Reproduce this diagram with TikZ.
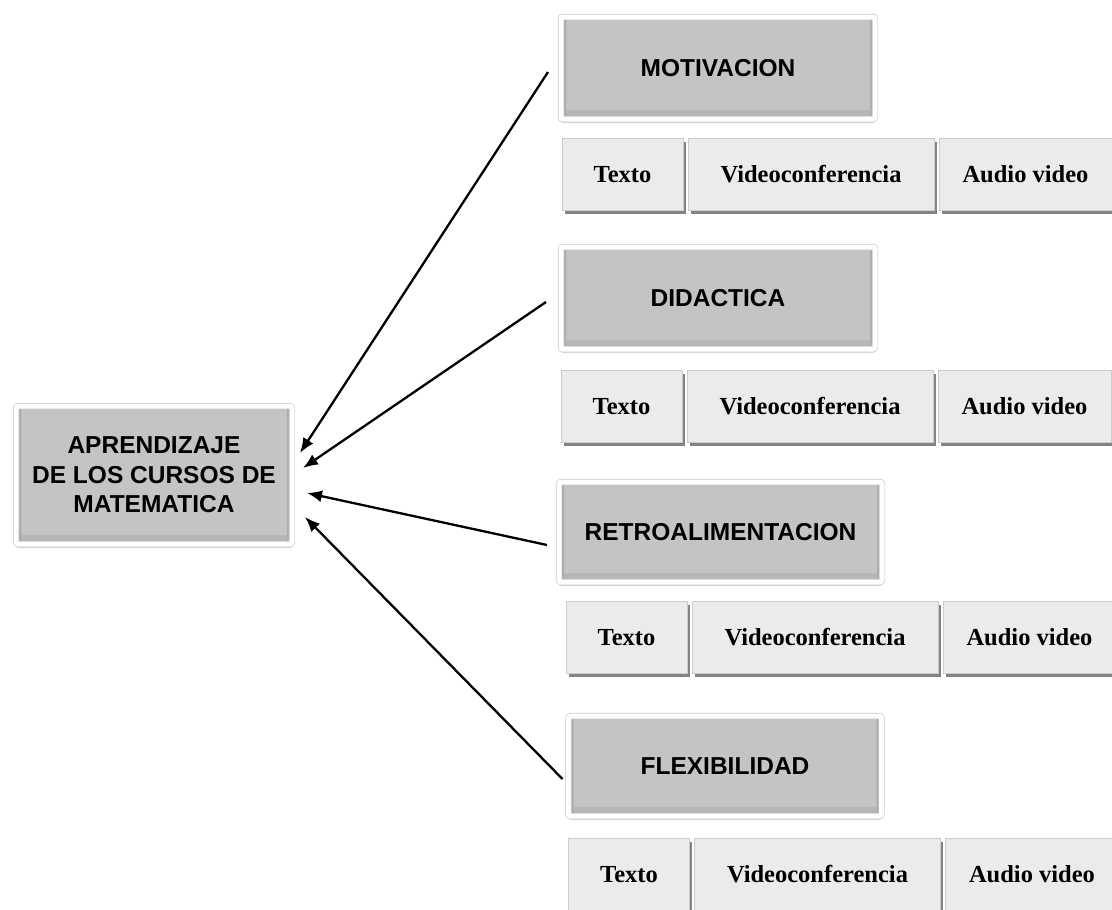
\documentclass[tikz,border=0pt]{standalone}
\usepackage{fontspec}
\setmainfont{Liberation Serif}
\setsansfont{Liberation Sans}
\usepackage{tikz}
\usetikzlibrary{positioning, shadows, arrows.meta, calc}
\definecolor{headgray}{RGB}{196,196,196}
\definecolor{subgray}{RGB}{235,235,235}
\tikzset{
	mainbox/.style = {rectangle, fill=headgray, draw=gray!45, line width=0.6pt, double=white, double distance=5pt, rounded corners=2pt, drop shadow={opacity=0.3, shadow xshift=0pt, shadow yshift=-4pt},
		path picture={
			\shade [top color=headgray, bottom color=gray!58] (path picture bounding box.south west) rectangle ([yshift=9pt]path picture bounding box.south east);
			\fill [gray!65] (path picture bounding box.south west) rectangle ([xshift=5pt]path picture bounding box.north west);
			\fill [gray!65] (path picture bounding box.south east) rectangle ([xshift=-5pt]path picture bounding box.north east);
		},
		font=\sffamily\bfseries\fontsize{24.5}{29.5}\selectfont, align=center, outer sep=0},
	headbox/.style = {mainbox, minimum height=102pt},
	subbox/.style = {rectangle, fill=subgray, draw=gray!40, line width=0.4pt, minimum height=72pt, text height=20pt, text depth=4pt, drop shadow={opacity=0.75, shadow xshift=2.5pt, shadow yshift=-3.5pt, fill=black!65}, font=\bfseries\fontsize{24.5}{28}\selectfont, outer sep=0},
	link/.style = {-{Latex[length=15pt, width=12pt]}, line width=2.3pt}
}

\begin{document}
\begin{tikzpicture}[x=1pt, y=-1pt]
	\useasboundingbox (0,0) rectangle (1112,910);
	
	\node [mainbox, minimum width=276pt, minimum height=138pt] (aprend) at (154,475) {APRENDIZAJE\\DE LOS CURSOS DE\\MATEMATICA};
	
	% motivacion
	\node [headbox, minimum width=314pt] (motiv) at (718,68) {MOTIVACION};
	\node [subbox, minimum width=121pt] (texto1) at (622.5,174) {Texto};
	\node [subbox, minimum width=246pt, right=5pt of texto1] (video1) {Videoconferencia};
	\node [subbox, minimum width=173pt, right=5pt of video1] (audio1) {Audio video};
	
	% didactica
	\node [headbox, minimum width=314pt] (didac) at (718,298) {DIDACTICA};
	\node [subbox, minimum width=121pt] (texto2) at (621.5,406) {Texto};
	\node [subbox, minimum width=246pt, right=5pt of texto2] (video2) {Videoconferencia};
	\node [subbox, minimum width=173pt, right=5pt of video2] (audio2) {Audio video};
	
	% retroalimentacion
	\node [headbox, minimum width=323pt, minimum height=100pt] (retro) at (720.5,532) {RETROALIMENTACION};
	\node [subbox, minimum width=121pt] (texto3) at (626.5,637) {Texto};
	\node [subbox, minimum width=246pt, right=5pt of texto3] (video3) {Videoconferencia};
	\node [subbox, minimum width=173pt, right=5pt of video3] (audio3) {Audio video};
	
	% flexibilidad
	\node [headbox, minimum width=313pt, minimum height=100pt] (flex) at (725,766) {FLEXIBILIDAD};
	\node [subbox, minimum width=121pt] (texto4) at (629,874) {Texto};
	\node [subbox, minimum width=246pt, right=5pt of texto4] (video4) {Videoconferencia};
	\node [subbox, minimum width=173pt, right=5pt of video4] (audio4) {Audio video};
	
	\coordinate (in1) at ($(aprend.east)+(8,-22)$);
	\coordinate (in2) at ($(aprend.east)+(11,-7)$);
	\coordinate (in3) at ($(aprend.east)+(15,18)$);
	\coordinate (in4) at ($(aprend.east)+(13,42)$);
	
	\draw [link] ([xshift=-13pt, yshift=-4pt]motiv.west) -- (in1);
	\draw [link] ([xshift=-15pt, yshift=-4pt]didac.west) -- (in2);
	\draw [link] ([xshift=-12pt, yshift=-13pt]retro.west) -- (in3);
	\draw [link] ([xshift=-6pt, yshift=-13pt]flex.west) -- (in4);
\end{tikzpicture}
\end{document}
